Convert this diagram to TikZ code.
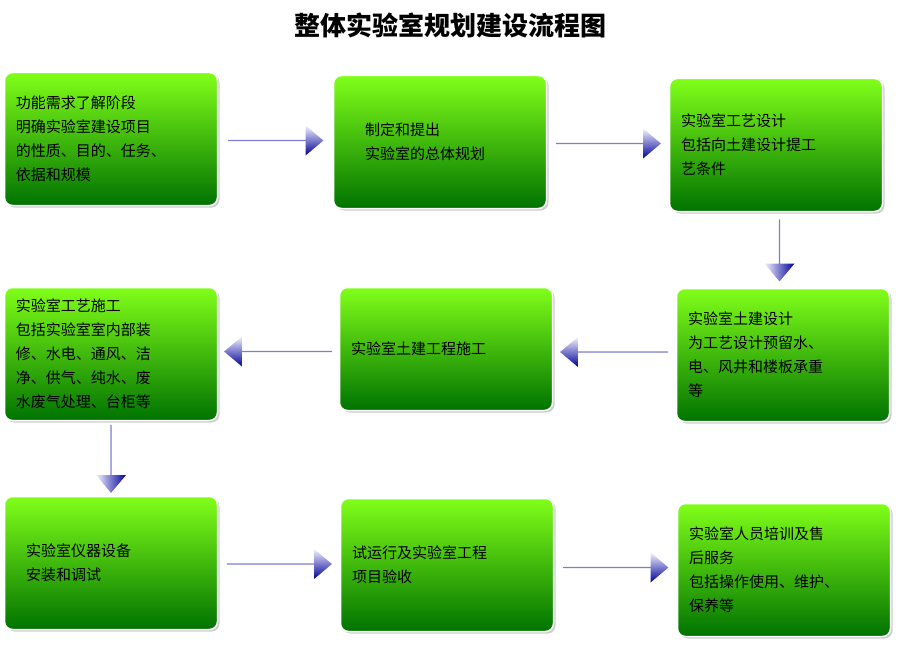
\documentclass[tikz,border=0pt]{standalone}
\usepackage{fontspec}
\newfontfamily\cjk{Noto Sans CJK SC}
\usetikzlibrary{shapes.arrows, calc, shadows}
\tikzset{
  stagebox/.style={draw=white, line width=1.5pt, rounded corners=8pt,
    top color=green!55!yellow!90!white, bottom color=green!45!black,
    drop shadow={shadow xshift=2pt, shadow yshift=-2pt, opacity=0.4},
    minimum width=213pt, minimum height=133pt, text width=190pt,
    align=left, font=\cjk\fontsize{15}{24}\selectfont},
  flowarrow/.style={single arrow, minimum height=95pt, minimum width=30pt,
    single arrow head extend=4pt, single arrow tip angle=80, inner sep=0pt,
    left color=blue!5, right color=blue!60!black, shading angle=#1},
}
\begin{document}
\begin{tikzpicture}[x=1pt, y=-1pt]
  \useasboundingbox (0,0) rectangle (900,650);
  % title
  \node[font=\cjk\bfseries\fontsize{26}{30}\selectfont] (title) at (450,25) {整体实验室规划建设流程图};
  % boxes
  \node[stagebox] (b1) at (111,139) {功能需求了解阶段\\明确实验室建设项目\\的性质、目的、任务、\\依据和规模};
  \node[stagebox, text width=150pt] (b2) at (440,142) {制定和提出\\实验室的总体规划};
  \node[stagebox] (b3) at (776,145) {实验室工艺设计\\包括向土建设计提工\\艺条件};
  \node[stagebox] (b4) at (783,355) {实验室土建设计\\为工艺设计预留水、\\电、风井和楼板承重\\等};
  \node[stagebox, minimum height=123pt] (b5) at (446,349) {实验室土建工程施工};
  \node[stagebox] (b6) at (111,354) {实验室工艺施工\\包括实验室室内部装\\修、水电、通风、洁\\净、供气、纯水、废\\水废气处理、台柜等};
  \node[stagebox, text width=170pt] (b7) at (111,563) {实验室仪器设备\\安装和调试};
  \node[stagebox] (b8) at (447,565) {试运行及实验室工程\\项目验收};
  \node[stagebox] (b9) at (784,570) {实验室人员培训及售\\后服务\\包括操作使用、维护、\\保养等};
  % arrows
  \node[flowarrow=0] (a12) at ($(b1.east)!0.5!(b2.west)$) {};
  \node[flowarrow=0, minimum height=105pt] (a23) at ($(b2.east)!0.5!(b3.west)$) {};
  \node[flowarrow=90, rotate=-90, minimum height=62pt] (a34) at ($(b3.south)!0.5!(b4.north)$) {};
  \node[flowarrow=0, rotate=180, minimum height=108pt] (a45) at ($(b4.west)!0.5!(b5.east)$) {};
  \node[flowarrow=0, rotate=180, minimum height=108pt] (a56) at ($(b5.west)!0.5!(b6.east)$) {};
  \node[flowarrow=90, rotate=-90, minimum height=68pt] (a67) at ($(b6.south)!0.5!(b7.north)$) {};
  \node[flowarrow=0, minimum height=105pt] (a78) at ($(b7.east)!0.5!(b8.west)$) {};
  \node[flowarrow=0, minimum height=105pt] (a89) at ($(b8.east)!0.5!(b9.west)$) {};
\end{tikzpicture}
\end{document}
